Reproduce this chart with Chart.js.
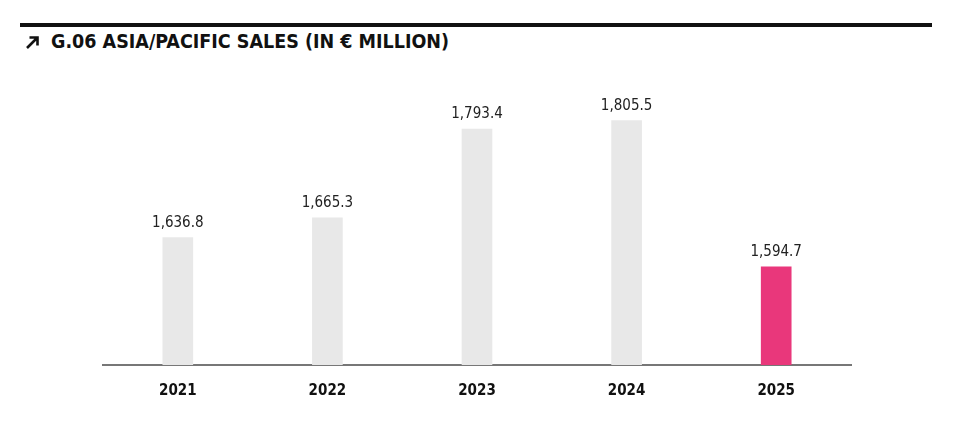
<!DOCTYPE html>
<html>
<head>
<meta charset="utf-8">
<script src="https://cdn.jsdelivr.net/npm/chart.js@4.4.1/dist/chart.umd.min.js"></script>
<style>
  html, body { margin: 0; padding: 0; background: #fff; }
  #wrap { position: relative; width: 960px; height: 442px; overflow: hidden; }
  #rule { position: absolute; left: 20px; top: 23px; width: 912px; height: 4px; background: #111; }
  #title {
    position: absolute; left: 25px; top: 30px;
    font-family: 'DejaVu Sans Condensed', sans-serif;
    font-weight: bold; font-size: 19.5px; color: #111; white-space: nowrap;
  }
  #title svg { display: inline-block; vertical-align: -1px; margin-right: 11px; }
  canvas { position: absolute; left: 0; top: 0; }
</style>
</head>
<body>
<div id="wrap">
  <div id="rule"></div>
  <div id="title"><svg width="15" height="14" viewBox="0 0 15 14"><path d="M2 13 L12.5 2.5 M4.5 2.5 H12.5 V10.5" stroke="#111" stroke-width="2.6" fill="none"/></svg>G.06 ASIA/PACIFIC SALES (IN € MILLION)</div>
  <canvas id="salesChart" width="960" height="442"></canvas>
</div>
<script>
// Asia/Pacific sales, € million
const years = ['2021', '2022', '2023', '2024', '2025'];
const sales = [1636.8, 1665.3, 1793.4, 1805.5, 1594.7];
const barColors = ['#e8e8e8', '#e8e8e8', '#e8e8e8', '#e8e8e8', '#e9377b'];

const fontFamily = "'DejaVu Sans Condensed', sans-serif";

// value labels above each bar
const valueLabels = {
  id: 'valueLabels',
  afterDatasetsDraw(chart) {
    const ctx = chart.ctx;
    const meta = chart.getDatasetMeta(0);
    ctx.save();
    ctx.font = '15px ' + fontFamily;
    ctx.fillStyle = '#222';
    ctx.textAlign = 'center';
    ctx.textBaseline = 'alphabetic';
    meta.data.forEach((bar, i) => {
      const txt = sales[i].toLocaleString('en-US', { minimumFractionDigits: 1 });
      ctx.fillText(txt, bar.x, bar.y - 11);
    });
    ctx.restore();
  }
};

const ctx = document.getElementById('salesChart').getContext('2d');
const salesChart = new Chart(ctx, {
  type: 'bar',
  data: {
    labels: years,
    datasets: [{
      data: sales,
      backgroundColor: barColors,
      barThickness: 30
    }]
  },
  options: {
    responsive: false,
    animation: false,
    layout: { padding: { top: 80, left: 103, right: 109, bottom: 25 } },
    plugins: { legend: { display: false }, tooltip: { enabled: false } },
    scales: {
      x: {
        grid: { display: false, drawTicks: false },
        border: { display: true, color: '#777', width: 2 },
        ticks: {
          padding: 17,
          color: '#111',
          font: { family: fontFamily, size: 15, weight: 'bold' }
        }
      },
      y: {
        display: false,
        min: 1453,
        max: 1864
      }
    }
  },
  plugins: [valueLabels]
});
</script>
</body>
</html>
